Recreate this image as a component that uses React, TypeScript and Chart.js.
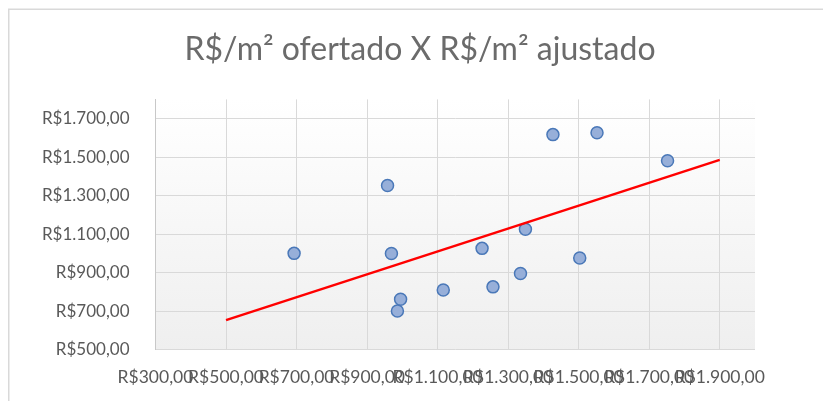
import React, { useEffect, useRef } from "react";
import { Chart, registerables } from "chart.js";

Chart.register(...registerables);

const titleText = "R$/m² ofertado X R$/m² ajustado";
const offeredValues = [693, 958, 969, 995, 986, 1116, 1226, 1257, 1335, 1349, 1427, 1552, 1503, 1752];
const adjustedValues = [1000, 1353, 999, 762, 701, 810, 1026, 826, 895, 1125, 1617, 1627, 976, 1481];
const trendX = [500, 1900];
const trendY = [653, 1486];
const xTicks = [300, 500, 700, 900, 1100, 1300, 1500, 1700, 1900];
const yTicks = [500, 700, 900, 1100, 1300, 1500, 1700];

const FONT = "Lato, 'Open Sans', sans-serif";
const fmt = (v: number) =>
  "R$" + v.toLocaleString("pt-BR", { minimumFractionDigits: 2, maximumFractionDigits: 2 });

const bgPlugin = {
  id: "bgPlugin",
  beforeDraw(chart: any) {
    const { ctx, chartArea: a } = chart;
    ctx.save();
    ctx.fillStyle = "#ffffff";
    ctx.fillRect(0, 0, chart.width, chart.height);
    ctx.strokeStyle = "#d9d9d9";
    ctx.lineWidth = 1.5;
    ctx.strokeRect(8.75, 9.25, chart.width + 20, chart.height + 20);
    const g = ctx.createLinearGradient(0, a.top, 0, a.bottom);
    g.addColorStop(0, "#ffffff");
    g.addColorStop(1, "#efefef");
    ctx.fillStyle = g;
    ctx.fillRect(a.left, a.top, a.right - a.left, a.bottom - a.top);
    ctx.restore();
  },
};

export default function App() {
  const ref = useRef<HTMLCanvasElement | null>(null);
  useEffect(() => {
    if (!ref.current) return;
    const scatter = offeredValues.map((x, i) => ({ x, y: adjustedValues[i] }));
    const trend = trendX.map((x, i) => ({ x, y: trendY[i] }));
    const chart = new Chart(ref.current, {
      type: "scatter",
      data: {
        datasets: [
          {
            label: "Linha",
            data: trend,
            showLine: true,
            borderColor: "#ff0000",
            borderWidth: 2.5,
            pointRadius: 0,
            order: 0,
          },
          {
            label: "Pontos",
            data: scatter,
            backgroundColor: "#97afd9",
            borderColor: "#4a78b8",
            borderWidth: 1.5,
            pointRadius: 6,
            order: 1,
          },
        ],
      },
      options: {
        animation: false,
        responsive: false,
        layout: { padding: { left: 17, right: 0, top: 0, bottom: 0 } },
        plugins: {
          legend: { display: false },
          tooltip: { enabled: false },
          title: {
            display: true,
            text: titleText,
            color: "#6b6b6b",
            font: { family: FONT, size: 32, weight: "normal" },
            padding: { top: 30, bottom: 31 },
          },
        },
        scales: {
          x: {
            type: "linear",
            min: 300,
            max: 2000,
            afterBuildTicks: (s: any) => {
              s.ticks = xTicks.map((v) => ({ value: v }));
            },
            afterFit: (s: any) => {
              s.height = 51.4;
            },
            grid: { color: "#d9d9d9", drawTicks: false, lineWidth: 1 },
            border: { display: false },
            ticks: {
              autoSkip: false,
              maxRotation: 0,
              minRotation: 0,
              padding: 17,
              color: "#595959",
              font: { family: FONT, size: 17.5 },
              callback: (v: any) => fmt(Number(v)),
            },
          },
          y: {
            type: "linear",
            min: 500,
            max: 1800,
            afterBuildTicks: (s: any) => {
              s.ticks = yTicks.map((v) => ({ value: v }));
            },
            afterFit: (s: any) => {
              s.width = 138.5;
            },
            grid: { color: "#d9d9d9", drawTicks: false, lineWidth: 1 },
            border: { display: true, color: "#c8c8c8", width: 1 },
            ticks: {
              padding: 26,
              color: "#595959",
              font: { family: FONT, size: 17 },
              callback: (v: any) => fmt(Number(v)),
            },
          },
          yRightSpace: {
            type: "linear",
            position: "right",
            display: true,
            grid: { display: false, drawTicks: false },
            border: { display: false },
            ticks: { display: false },
            afterFit: (s: any) => {
              s.width = 68;
            },
          },
        },
      },
      plugins: [bgPlugin],
    });
    return () => chart.destroy();
  }, []);
  return (
    <div style={{ position: "fixed", left: 0, top: 0, width: 823, height: 401 }}>
      <canvas ref={ref} width={823} height={401} style={{ width: 823, height: 401 }} />
    </div>
  );
}
